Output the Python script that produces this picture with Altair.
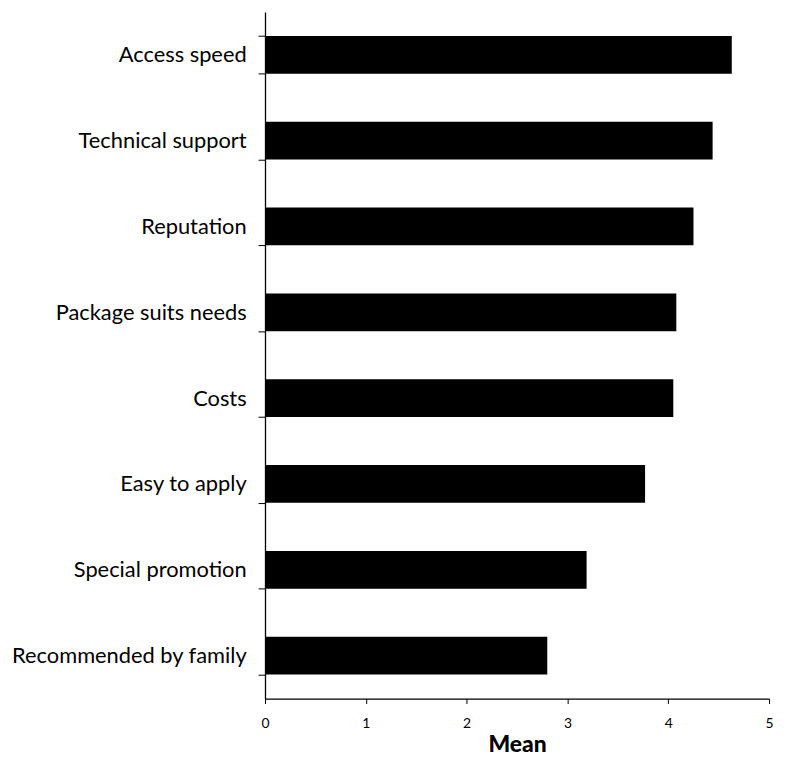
import altair as alt
import pandas as pd

categories = [
    "Access speed",
    "Technical support",
    "Reputation",
    "Package suits needs",
    "Costs",
    "Easy to apply",
    "Special promotion",
    "Recommended by family",
]
means = [4.63, 4.44, 4.25, 4.08, 4.05, 3.77, 3.19, 2.80]
x_ticks = [0, 1, 2, 3, 4, 5]

df = pd.DataFrame({"factor": categories, "mean": means})

FONT = "Lato"

chart = (
    alt.Chart(df)
    .mark_bar(color="black")
    .encode(
        y=alt.Y(
            "factor:N",
            sort=categories,
            scale=alt.Scale(paddingInner=0.56, paddingOuter=0.28),
            axis=alt.Axis(
                title=None,
                tickBand="extent",
                tickSize=7,
                labelPadding=12,
                labelFontSize=22,
                labelFont=FONT,
                labelColor="black",
                domainColor="black",
                tickColor="black",
                domainWidth=1.3,
                labelLimit=400,
            ),
        ),
        x=alt.X(
            "mean:Q",
            scale=alt.Scale(domain=[0, 5], nice=False),
            axis=alt.Axis(
                title="Mean",
                values=x_ticks,
                format="d",
                grid=False,
                tickSize=5,
                labelPadding=13,
                labelFontSize=14,
                labelFont=FONT,
                labelColor="black",
                labelFlush=False,
                domainColor="black",
                tickColor="black",
                domainWidth=1.3,
                titleFont=FONT,
                titleFontSize=23,
                titleFontWeight=900,
                titleColor="black",
                titlePadding=3,
            ),
        ),
    )
    .properties(
        width=508,
        height=692,
        autosize=alt.AutoSizeParams(type="none"),
        padding={"left": 259, "top": 1, "right": 10, "bottom": 55},
    )
    .configure_view(stroke=None)
)

chart.save("out.html", embed_options={"renderer": "svg", "actions": False})
